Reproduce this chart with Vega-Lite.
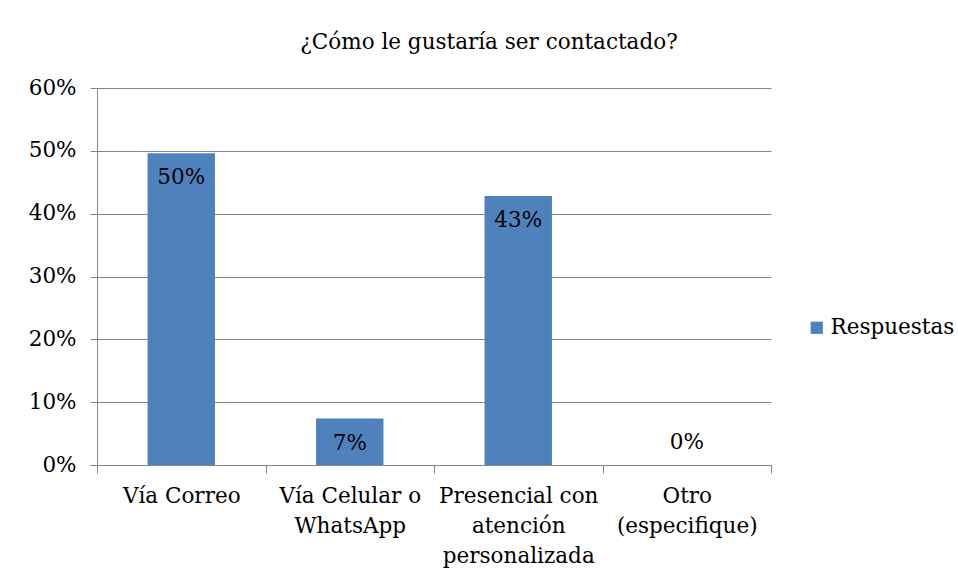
{
  "$schema": "https://vega.github.io/schema/vega-lite/v6.json",
  "width": 674,
  "height": 377,
  "autosize": {"type": "none"},
  "padding": {"left": 97, "top": 88, "right": 187, "bottom": 118},
  "background": "white",
  "title": {
    "text": "¿Cómo le gustaría ser contactado?",
    "font": "DejaVu Serif",
    "fontSize": 21.5,
    "fontWeight": "normal",
    "color": "#000000",
    "anchor": "middle",
    "frame": "group",
    "dx": 55,
    "offset": 24
  },
  "data": {
    "values": [
      {"categoria": "Vía Correo", "valor": 0.496, "serie": "Respuestas"},
      {"categoria": "Vía Celular o|WhatsApp", "valor": 0.074, "serie": "Respuestas"},
      {"categoria": "Presencial con|atención|personalizada", "valor": 0.428, "serie": "Respuestas"},
      {"categoria": "Otro|(especifique)", "valor": 0.0, "serie": "Respuestas"}
    ]
  },
  "encoding": {
    "x": {
      "field": "categoria",
      "type": "nominal",
      "sort": null,
      "scale": {"paddingInner": 0, "paddingOuter": 0},
      "axis": {
        "title": null,
        "labelAngle": 0,
        "labelExpr": "split(datum.label, '|')",
        "labelFont": "DejaVu Serif",
        "labelFontSize": 21.5,
        "labelColor": "#000000",
        "labelLineHeight": 30,
        "labelPadding": 12,
        "labelBaseline": "top",
        "tickBand": "extent",
        "tickSize": 8,
        "tickColor": "#868686",
        "domainColor": "#868686",
        "grid": false
      }
    },
    "y": {
      "field": "valor",
      "type": "quantitative",
      "scale": {"domain": [0, 0.6], "nice": false},
      "axis": {
        "title": null,
        "format": ".0%",
        "values": [0, 0.1, 0.2, 0.3, 0.4, 0.5, 0.6],
        "labelFont": "DejaVu Serif",
        "labelFontSize": 21.5,
        "labelColor": "#000000",
        "labelPadding": 14,
        "tickSize": 7,
        "tickColor": "#868686",
        "domainColor": "#868686",
        "gridColor": "#868686",
        "grid": true
      }
    }
  },
  "layer": [
    {
      "mark": {"type": "bar", "width": {"band": 0.4}, "color": "#4f81bd"},
      "encoding": {
        "color": {
          "field": "serie",
          "type": "nominal",
          "scale": {"range": ["#4f81bd"]},
          "legend": {
            "title": null,
            "orient": "none",
            "legendX": 709,
            "legendY": 229,
            "symbolType": "square",
            "symbolSize": 150,
            "symbolStrokeWidth": 0,
            "labelFont": "DejaVu Serif",
            "labelFontSize": 21.5,
            "labelColor": "#000000",
            "labelOffset": 3
          }
        }
      }
    },
    {
      "transform": [{"filter": "datum.valor > 0"}],
      "mark": {"type": "text", "baseline": "middle", "dy": 25, "font": "DejaVu Serif", "fontSize": 21.5, "color": "#000000"},
      "encoding": {"text": {"field": "valor", "type": "quantitative", "format": ".0%"}}
    },
    {
      "transform": [{"filter": "datum.valor == 0"}],
      "mark": {"type": "text", "baseline": "middle", "dy": -22, "font": "DejaVu Serif", "fontSize": 21.5, "color": "#000000"},
      "encoding": {"text": {"field": "valor", "type": "quantitative", "format": ".0%"}}
    }
  ],
  "config": {"view": {"stroke": null}}
}
